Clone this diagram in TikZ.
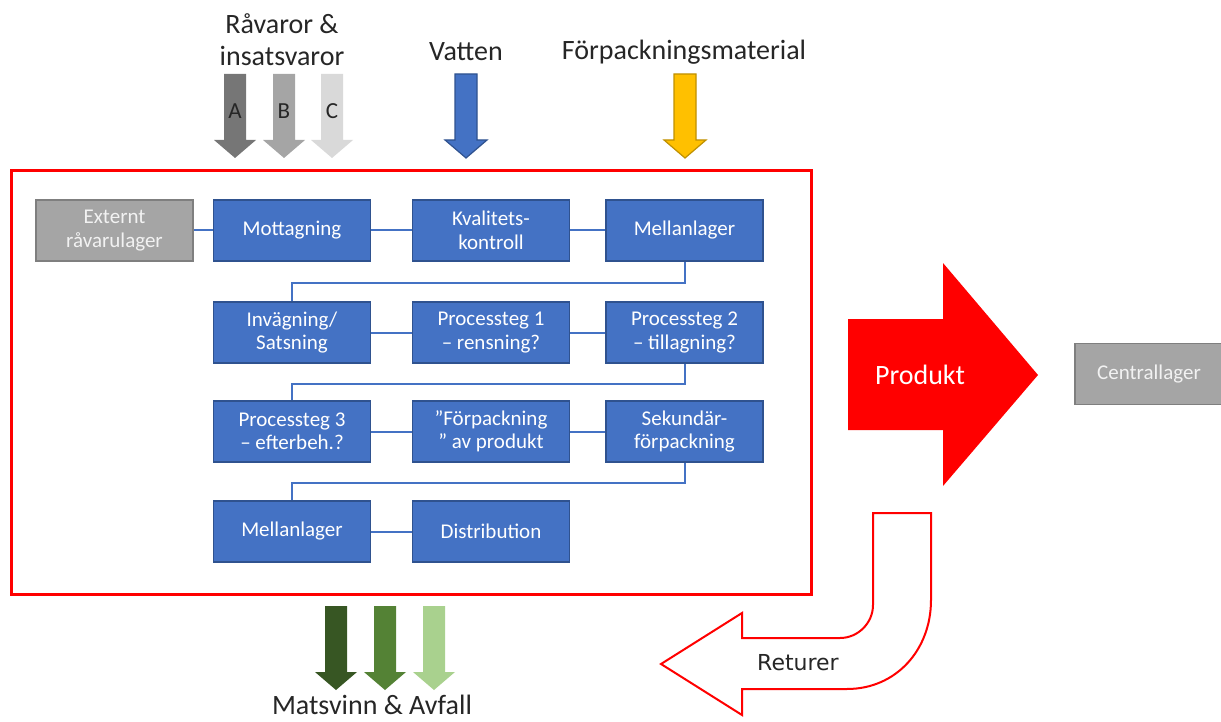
\documentclass[tikz,border=0pt]{standalone}
\usepackage{fontspec}
\setmainfont{Carlito}
\newfontfamily\dejavu{DejaVu Sans}
\definecolor{boxblue}{HTML}{4472C4}
\definecolor{boxborder}{HTML}{2F528F}
\definecolor{boxgray}{HTML}{A5A5A5}
\definecolor{grayborder}{HTML}{7F7F7F}
\definecolor{arrA}{HTML}{767676}
\definecolor{arrB}{HTML}{A5A5A5}
\definecolor{arrC}{HTML}{D9D9D9}
\definecolor{yel}{HTML}{FFC000}
\definecolor{yelborder}{HTML}{BF9000}
\definecolor{gA}{HTML}{375623}
\definecolor{gB}{HTML}{548235}
\definecolor{gC}{HTML}{A9D18E}
\definecolor{txt}{HTML}{262626}
\begin{document}
\begin{tikzpicture}[x=1pt,y=-1pt,
  box/.style={draw=boxborder, fill=boxblue, line width=1.5pt, minimum width=157pt, minimum height=61pt,
    text=white, align=center, font=\fontsize{21}{23.5}\selectfont, inner sep=0pt},
  graybox/.style={box, draw=grayborder, fill=boxgray, text=black!5},
  conn/.style={draw=boxblue, line width=2pt},
  lbl/.style={text=txt, align=center, font=\fontsize{28}{32}\selectfont, inner sep=0pt},
  abc/.style={text=txt, font=\fontsize{23}{26}\selectfont, inner sep=0pt},
  downarr/.pic={\path[pic actions] (-11,0) -- (11,0) -- (11,66) -- (21,66) -- (0,84) -- (-21,66) -- (-11,66) -- cycle;}
]
\useasboundingbox (0,0) rectangle (1221,722);

% top labels
\node[lbl] (raw) at (282,40) {Råvaror \&\\insatsvaror};
\node[lbl] (vat) at (466,52) {Vatten};
\node[lbl] (fpm) at (684,52) {Förpackningsmaterial};

% top arrows
\pic[fill=arrA] at (235,74) {downarr};
\pic[fill=arrB] at (284,74) {downarr};
\pic[fill=arrC] at (332,74) {downarr};
\pic[fill=boxblue, draw=boxborder, line width=1.2pt] at (466,74) {downarr};
\pic[fill=yel, draw=yelborder, line width=1.2pt] at (685,74) {downarr};
\node[abc] (la) at (235,111) {A};
\node[abc] (lb) at (284,111) {B};
\node[abc] (lc) at (332,111) {C};

% frame
\draw[red, line width=3pt] (11,171) rectangle (811,594);

% boxes
\node[graybox] (ext) at (114.5,230.5) {Externt\\råvarulager};
\node[box] (mot) at (292,230.5) {Mottagning};
\node[box] (kva) at (491,230.5) {Kvalitets-\\kontroll};
\node[box] (ml1) at (684.5,230.5) {Mellanlager};
\node[box] (inv) at (292,332.5) {Invägning/\\Satsning};
\node[box] (ps1) at (491,332.5) {Processteg 1\\– rensning?};
\node[box] (ps2) at (684.5,332.5) {Processteg 2\\– tillagning?};
\node[box] (ps3) at (292,431.5) {Processteg 3\\– efterbeh.?};
\node[box] (fpk) at (491,431.5) {”Förpackning\\” av produkt};
\node[box] (sek) at (684.5,431.5) {Sekundär-\\förpackning};
\node[box] (ml2) at (292,531.5) {Mellanlager};
\node[box] (dis) at (491,531.5) {Distribution};

% connectors
\draw[conn] (ext) -- (mot);
\draw[conn] (mot) -- (kva);
\draw[conn] (kva) -- (ml1);
\draw[conn] (ml1.south) -- ++(0,21) -| (inv.north);
\draw[conn] (inv) -- (ps1);
\draw[conn] (ps1) -- (ps2);
\draw[conn] (ps2.south) -- ++(0,20) -| (ps3.north);
\draw[conn] (ps3) -- (fpk);
\draw[conn] (fpk) -- (sek);
\draw[conn] (sek.south) -- ++(0,20) -| (ml2.north);
\draw[conn] (ml2) -- (dis);

% product arrow
\fill[red] (848,319) -- (943,319) -- (943,263) -- (1038,375) -- (943,486) -- (943,430) -- (848,430) -- cycle;
\node[text=white, font=\fontsize{28}{32}\selectfont] (prod) at (920,375) {Produkt};

% centrallager
\node[graybox, minimum width=148pt, minimum height=61pt] (cen) at (1149,374) {Centrallager};

% returns arrow
\draw[red, fill=white, line width=2pt, line join=miter]
  (873,513) -- (931,513) -- (931,600) .. controls (931,650) and (896,689) .. (847,689)
  -- (742,689) -- (742,715) -- (661,664) -- (742,613) -- (742,638) -- (840,638)
  .. controls (858,638) and (873,623) .. (873,605) -- cycle;
\node[text=txt, font=\dejavu\fontsize{22}{26}\selectfont] (ret) at (798,663) {Returer};

% waste arrows
\pic[fill=gA] at (336,606) {downarr};
\pic[fill=gB] at (385,606) {downarr};
\pic[fill=gC] at (434,606) {downarr};
\node[lbl] (mat) at (372,705) {Matsvinn \& Avfall};
\end{tikzpicture}
\end{document}
